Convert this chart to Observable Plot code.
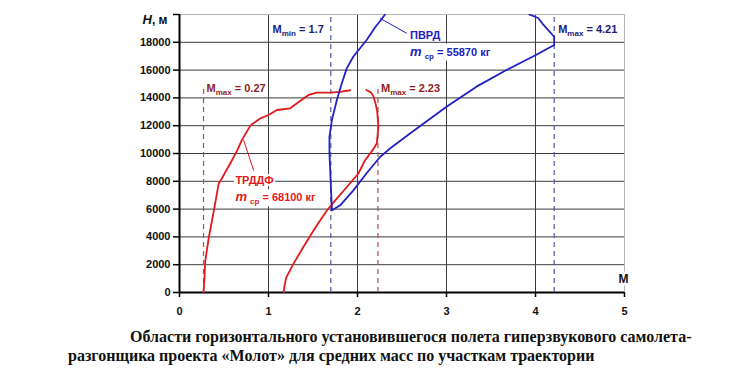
<!DOCTYPE html>
<html><head><meta charset="utf-8">
<script src="https://cdn.jsdelivr.net/npm/d3@7"></script>
<script src="https://cdn.jsdelivr.net/npm/@observablehq/plot@0.6"></script>
<style>
body{margin:0;background:#fff;width:745px;height:380px;overflow:hidden}
.cap{font-family:"Liberation Serif","Times New Roman",serif;font-weight:bold;font-size:16px;line-height:19px;color:#111;white-space:nowrap}
#cap1{margin-left:130px;width:560px;text-align:justify;text-align-last:justify;margin-top:7px}
#cap2{margin-left:68px}
</style></head><body>
<div id="chart"></div>
<div id="cap1" class="cap"></div>
<div id="cap2" class="cap"></div>
<script>
// ---- data ----
const mTicks = [0, 1, 2, 3, 4, 5];
const hTicks = [0, 2000, 4000, 6000, 8000, 10000, 12000, 14000, 16000, 18000, 20000];

// ТРДДФ region (two branches)
const redLeftM = [0.27, 0.28, 0.29, 0.33, 0.36, 0.39, 0.44, 0.47, 0.57, 0.65, 0.70, 0.80, 0.91, 1.00, 1.095, 1.244, 1.32, 1.45, 1.544, 1.69, 1.805, 1.917];
const redLeftH = [0, 1000, 2300, 3980, 5000, 6030, 7830, 8150, 9280, 10240, 10960, 12040, 12530, 12770, 13130, 13250, 13610, 14210, 14380, 14380, 14430, 14550];
const redRightM = [1.17, 1.18, 1.20, 1.28, 1.39, 1.506, 1.58, 1.656, 1.75, 1.88, 2.01, 2.085, 2.17, 2.216, 2.235, 2.22, 2.20, 2.18, 2.15, 2.10];
const redRightH = [0, 500, 1090, 2060, 3260, 4460, 5180, 5900, 6630, 7590, 8560, 9520, 10240, 10720, 11920, 13130, 13650, 14090, 14400, 14570];

// ПВРД region
const blueM = [2.31, 2.25, 2.20, 2.105, 1.954, 1.88, 1.824, 1.768, 1.712, 1.685, 1.685, 1.695, 1.712, 1.71, 1.805, 1.954, 2.10, 2.253, 2.365, 2.59, 3.0, 3.337, 3.674, 4.01, 4.21, 4.21, 4.08, 4.03, 3.93];
const blueH = [20000, 19500, 19100, 18180, 16980, 16140, 15060, 13850, 12400, 11200, 10000, 8560, 6030, 5900, 6270, 7350, 8560, 9750, 10360, 11440, 13360, 14810, 16010, 17100, 17800, 18400, 19330, 19750, 20000];

// limit Mach numbers
const redLimits = [0.27, 2.23];
const redLimitLabels = ["M_{max} = 0.27", "M_{max} = 2.23"];
const blueMinLimit = [1.7];
const blueMinLabel = ["M_{min} = 1.7"];
const blueMaxLimit = [4.21];
const blueMaxLabel = ["M_{max} = 4.21"];

// engine labels and leaders
const trddfLabel = ["ТРДДФ", "*m* _{ср} = 68100 кг"];
const pvrdLabel = ["ПВРД", "*m* _{ср} = 55870 кг"];
const trddfLeaderM = [0.72, 0.833];
const trddfLeaderH = [10960, 8790];
const pvrdLeaderM = [2.26, 2.55];
const pvrdLeaderH = [19700, 18660];

const axisTitleY = "*H*, м";
const axisTitleX = "M";
const captionLines = [
  "Области горизонтального установившегося полета гиперзвукового самолета-",
  "разгонщика проекта «Молот» для средних масс по участкам траектории"
];

// ---- build ----
const pts = (ms, hs) => ms.map((m, i) => ({m, h: hs[i]}));
const redLeft = pts(redLeftM, redLeftH);
const redRight = pts(redRightM, redRightH);
const blue = pts(blueM, blueH);
const trddfLeader = pts(trddfLeaderM, trddfLeaderH);
const pvrdLeader = pts(pvrdLeaderM, pvrdLeaderH);

const RED = "#e3191c", BLUE = "#2121c4", DRED = "#8e1e22", NAVY = "#1c1c7a";
const RDASH = "#a85050", BDASH = "#4d5a9e";

const chart = Plot.plot({
  width: 745, height: 320,
  marginLeft: 179, marginRight: 121, marginTop: 14, marginBottom: 28,
  style: {fontFamily: "'Liberation Sans', Arial, sans-serif", fontSize: "11px", fontWeight: "bold", color: "#111", background: "#fff", overflow: "visible"},
  x: {domain: [0, 5]},
  y: {domain: [0, 20000]},
  marks: [
    Plot.ruleY(hTicks.filter(d => d > 0 && d < 20000), {stroke: "#3c3c3c", strokeWidth: 1}),
    Plot.ruleX(mTicks.filter(d => d > 0 && d < 5), {stroke: "#3c3c3c", strokeWidth: 1}),
    Plot.ruleY([20000], {stroke: "#b5b5b5", strokeWidth: 1}),
    Plot.ruleX([5], {stroke: "#b5b5b5", strokeWidth: 1}),
    Plot.axisY({ticks: hTicks, tickSize: 6, tickPadding: 3, tickFormat: d => d === 20000 ? "" : String(d), label: null, stroke: "#000", strokeWidth: 1.5}),
    Plot.axisX({ticks: mTicks, tickSize: 5, tickPadding: 10, tickFormat: d => String(d), label: null, stroke: "#000", strokeWidth: 1.5}),
    Plot.ruleX([0], {stroke: "#000", strokeWidth: 2}),
    Plot.ruleY([0], {stroke: "#000", strokeWidth: 2}),
    Plot.ruleX(redLimits, {x: d => d, y1: 0, y2: 14900, stroke: RDASH, strokeWidth: 1.2, strokeDasharray: "5,4"}),
    Plot.ruleX(blueMinLimit.concat(blueMaxLimit), {x: d => d, y1: 0, y2: 20000, stroke: BDASH, strokeWidth: 1.2, strokeDasharray: "5,4"}),
    Plot.line(redLeft, {x: "m", y: "h", stroke: RED, strokeWidth: 1.8}),
    Plot.line(redRight, {x: "m", y: "h", stroke: RED, strokeWidth: 1.8}),
    Plot.line(blue, {x: "m", y: "h", stroke: BLUE, strokeWidth: 1.8, clip: true}),
    Plot.line(trddfLeader, {x: "m", y: "h", stroke: RED, strokeWidth: 1}),
    Plot.line(pvrdLeader, {x: "m", y: "h", stroke: BLUE, strokeWidth: 1}),
    Plot.text(redLimitLabels, {text: d => d, x: (d, i) => redLimits[i], y: () => 14700, dx: 3, textAnchor: "start", fill: DRED}),
    Plot.text(blueMinLabel, {text: d => d, x: (d, i) => blueMinLimit[i], y: () => 18900, dx: -7, textAnchor: "end", fill: NAVY}),
    Plot.text(blueMaxLabel, {text: d => d, x: (d, i) => blueMaxLimit[i], y: () => 18900, dx: 4, textAnchor: "start", fill: NAVY}),
    Plot.text(trddfLabel, {text: d => d, x: () => 0.628, y: (d, i) => [8050, 6820][i], textAnchor: "start", fill: RED}),
    Plot.text(pvrdLabel, {text: d => d, x: () => 2.59, y: (d, i) => [18470, 17300][i], textAnchor: "start", fill: BLUE}),
    Plot.text([axisTitleY], {text: d => d, frameAnchor: "top-left", dx: -12, dy: 1, textAnchor: "end", fill: "#111", fontSize: 12}),
    Plot.text([axisTitleX], {text: d => d, frameAnchor: "bottom-right", dx: -1, dy: -10, textAnchor: "middle", fill: "#111", fontSize: 12})
  ]
});
document.getElementById("chart").append(chart);
document.getElementById("cap1").textContent = captionLines[0];
document.getElementById("cap2").textContent = captionLines[1];

// rich text (italic, subscripts) and white label backgrounds
const NS = "http://www.w3.org/2000/svg";
function rich(t) {
  const s = t.textContent;
  if (!/[_*]/.test(s)) return;
  t.textContent = "";
  const parts = s.split(/(\*[^*]+\*|_\{[^}]+\})/).filter(p => p);
  let shifted = false;
  for (const p of parts) {
    const ts = document.createElementNS(NS, "tspan");
    if (p.startsWith("*")) {
      ts.textContent = p.slice(1, -1);
      ts.setAttribute("font-style", "italic");
      ts.setAttribute("font-size", "13");
    } else if (p.startsWith("_{")) {
      ts.textContent = p.slice(2, -1);
      ts.setAttribute("font-size", "8");
      ts.setAttribute("dy", "3");
      shifted = true;
    } else {
      ts.textContent = p;
      if (shifted) { ts.setAttribute("dy", "-3"); shifted = false; }
    }
    t.appendChild(ts);
  }
}
chart.querySelectorAll('g[aria-label="text"] text').forEach(t => {
  rich(t);
  const b = t.getBBox();
  const r = document.createElementNS(NS, "rect");
  r.setAttribute("x", b.x - 1.5);
  r.setAttribute("y", b.y);
  r.setAttribute("width", b.width + 3);
  r.setAttribute("height", b.height);
  r.setAttribute("fill", "#fff");
  const tr = t.getAttribute("transform");
  if (tr) r.setAttribute("transform", tr);
  t.parentNode.insertBefore(r, t);
});
</script></body></html>
